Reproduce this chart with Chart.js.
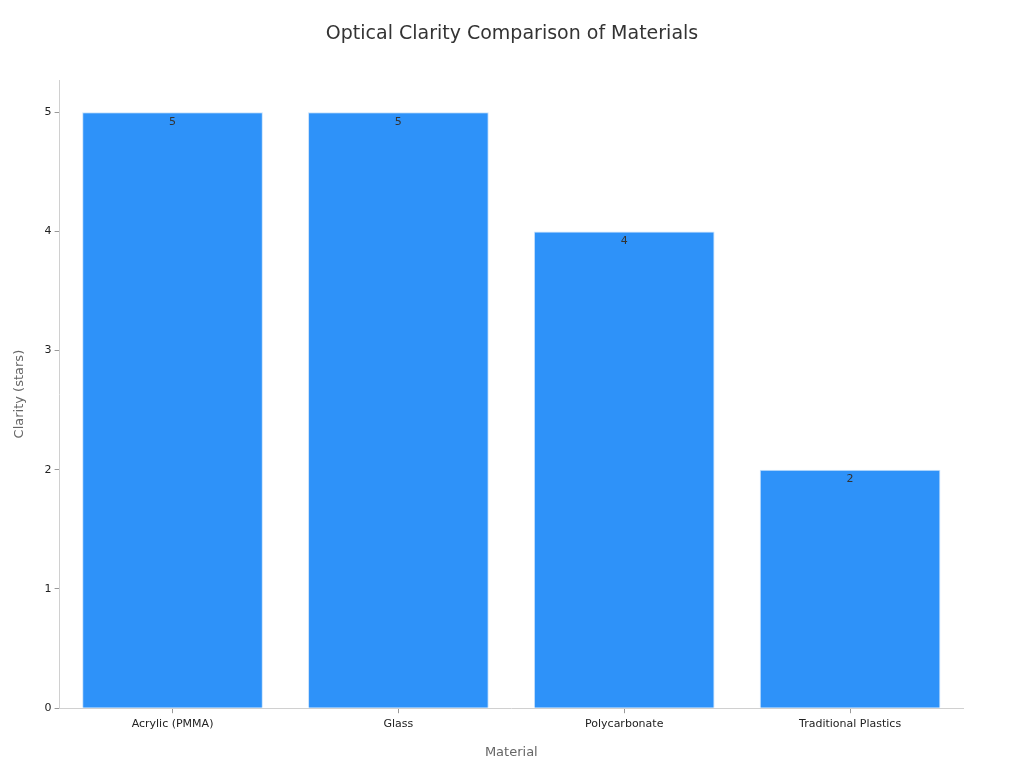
<!DOCTYPE html>
<html lang="en">
<head>
  <meta charset="UTF-8" />
  <title>Optical Clarity Comparison of Materials</title>
  <script src="https://cdn.jsdelivr.net/npm/chart.js"></script>
  <style>
    body {
      margin: 0;
      padding: 0;
      background: #fff;
    }
    #wrap {
      width: 1024px;
      height: 768px;
    }
  </style>
</head>
<body>
  <div id="wrap">
    <canvas id="chart" width="1024" height="768"></canvas>
  </div>

  <script>
    const chartTitle = 'Optical Clarity Comparison of Materials';
    const materials = ['Acrylic (PMMA)', 'Glass', 'Polycarbonate', 'Traditional Plastics'];
    const clarity = [5, 5, 4, 2];
    const yTicks = [0, 1, 2, 3, 4, 5];

    const FONT = "'DejaVu Sans', Verdana, sans-serif";

    // title centred on the whole canvas, not on the padded box
    const pageTitle = {
      id: 'pageTitle',
      afterDraw(chart) {
        const ctx = chart.ctx;
        ctx.save();
        ctx.font = '19px ' + FONT;
        ctx.fillStyle = '#333';
        ctx.textAlign = 'center';
        ctx.textBaseline = 'middle';
        ctx.fillText(chartTitle, chart.width / 2, 34);
        ctx.restore();
      }
    };

    // writes the value just inside the top of each bar
    const barLabels = {
      id: 'barLabels',
      afterDatasetsDraw(chart) {
        const ctx = chart.ctx;
        const meta = chart.getDatasetMeta(0);
        ctx.save();
        ctx.font = '11px ' + FONT;
        ctx.fillStyle = '#333';
        ctx.textAlign = 'center';
        ctx.textBaseline = 'top';
        meta.data.forEach((bar, i) => {
          ctx.fillText(String(clarity[i]), bar.x, bar.y + 4);
        });
        ctx.restore();
      }
    };

    new Chart(document.getElementById('chart').getContext('2d'), {
      type: 'bar',
      data: {
        labels: materials,
        datasets: [{
          data: clarity,
          backgroundColor: '#2e92f9',
          borderColor: '#c9e2fb',
          borderWidth: 1,
          barPercentage: 0.8,
          categoryPercentage: 1
        }]
      },
      options: {
        responsive: false,
        animation: false,
        layout: {
          padding: { left: 8, right: 61, top: 80, bottom: 4 }
        },
        plugins: {
          legend: { display: false },
          tooltip: { enabled: false },
          title: { display: false }
        },
        scales: {
          x: {
            grid: { offset: false, drawOnChartArea: false, drawTicks: true, tickLength: 5, color: '#999' },
            border: { display: true, color: '#d0d0d0' },
            ticks: { color: '#222', font: { family: FONT, size: 11 }, padding: 4 },
            title: {
              display: true,
              text: 'Material',
              color: '#666',
              font: { family: FONT, size: 13 },
              padding: { top: 10 }
            }
          },
          y: {
            min: 0,
            max: 5.27,
            afterBuildTicks(scale) {
              scale.ticks = yTicks.map(v => ({ value: v }));
            },
            grid: { drawOnChartArea: false, drawTicks: true, tickLength: 5, color: '#999' },
            border: { display: true, color: '#d0d0d0' },
            ticks: { color: '#222', font: { family: FONT, size: 11 }, padding: 3 },
            title: {
              display: true,
              text: 'Clarity (stars)',
              color: '#666',
              font: { family: FONT, size: 13 },
              padding: { bottom: 14 }
            }
          }
        }
      },
      plugins: [barLabels, pageTitle]
    });
  </script>
</body>
</html>
